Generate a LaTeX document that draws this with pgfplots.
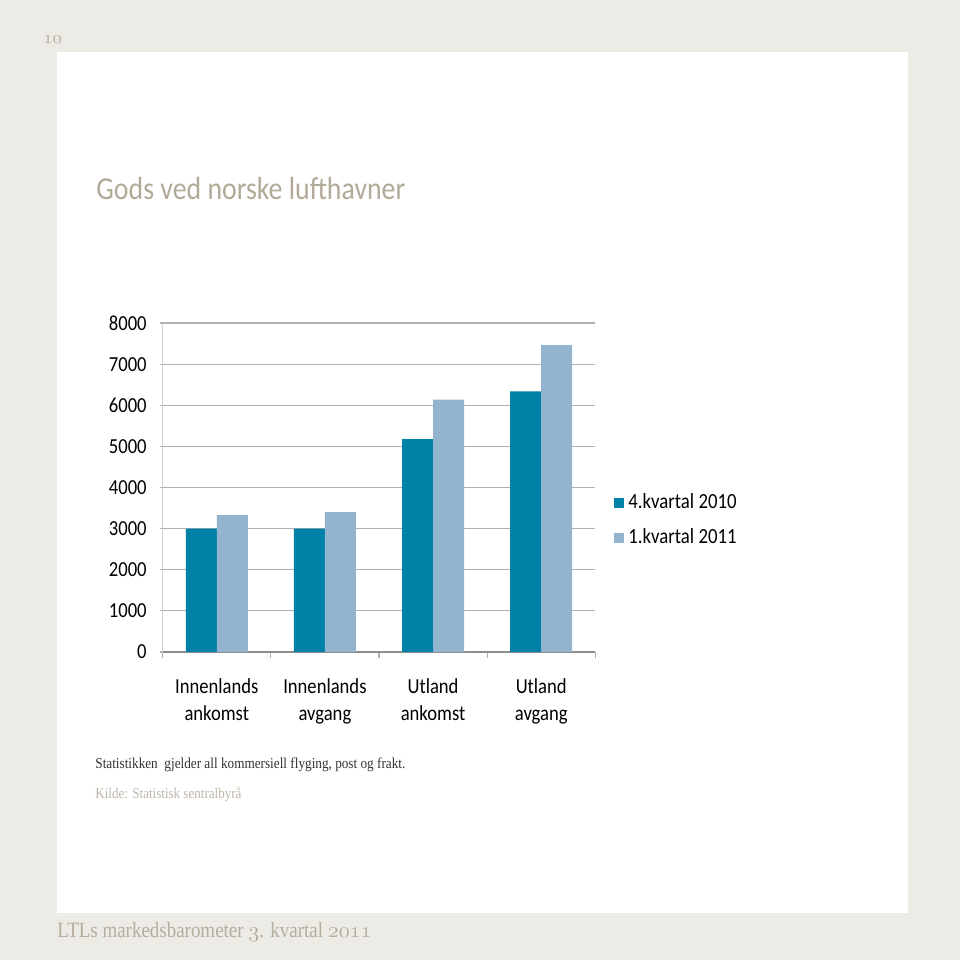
\documentclass[border=0pt]{standalone}
\usepackage{pgfplots}
\pgfplotsset{compat=1.18}
\usepackage{fontspec}
\setmainfont[FakeStretch=0.87]{Carlito}
\newfontfamily\serif[FakeStretch=0.87]{Liberation Serif}
\newcommand{\osf}[1]{{\fontencoding{OML}\fontfamily{cmm}\fontseries{m}\fontshape{it}\selectfont #1}}

\definecolor{pagebg}{HTML}{EDEBE5}
\definecolor{titlecol}{HTML}{B2AA98}
\definecolor{kildecol}{HTML}{BEB7A8}
\definecolor{footcol}{HTML}{B5AD9E}
\definecolor{darkbar}{HTML}{0081A7}
\definecolor{lightbar}{HTML}{92B4CF}
\definecolor{gridcol}{HTML}{B0B0B0}

\begin{document}
\begin{tikzpicture}
% page and white panel (1 px of the reference = 0.5pt)
\fill[pagebg] (0,0) rectangle (480pt,480pt);
\fill[white] (28.5pt,23.5pt) rectangle (454pt,454pt);

\node[anchor=base west, inner sep=0, text=footcol, font=\fontsize{9.5}{11}\selectfont] at (21.5pt,458pt) {\osf{10}};
\node[anchor=base west, inner sep=0, text=titlecol, font=\fontsize{16}{19}\selectfont] at (48pt,380pt) {Gods ved norske lufthavner};

\begin{axis}[
    at={(81.35pt,154pt)}, anchor=south west,
    scale only axis, width=216.3pt, height=164.5pt,
    xmin=-0.5, xmax=3.5, ymin=0, ymax=8000,
    ytick={0,1000,...,8000},
    xtick={0,1,2,3},
    xticklabels={{Innenlands\\ankomst},{Innenlands\\avgang},{Utland\\ankomst},{Utland\\avgang}},
    minor xtick={-0.5,0.5,1.5,2.5,3.5},
    major x tick style={draw=none},
    minor x tick style={draw=gridcol, line width=0.6pt},
    minor tick length=3pt,
    major tick length=1.5pt,
    tick align=outside,
    ymajorgrids,
    grid style={gridcol, line width=0.6pt},
    y tick style={gridcol, line width=0.6pt},
    axis x line*=bottom, axis y line*=left,
    x axis line style={-, draw=gridcol!80!black, line width=0.6pt},
    y axis line style={-, draw=gridcol!60, line width=0.6pt},
    tick label style={font=\fontsize{10.7}{13.4}\selectfont},
    xticklabel style={align=center, yshift=-8.5pt},
    yticklabel style={xshift=-3pt},
    /pgf/number format/assume math mode=true,
    /pgf/number format/1000 sep={},
    legend style={at={(1.043,0.4)}, anchor=west, draw=none, fill=none,
        font=\fontsize{10.8}{13}\selectfont, row sep=4.5pt, inner sep=0pt,
        nodes={inner xsep=2pt}},
    legend cell align=left,
    legend image code/.code={\fill[#1, draw=none] (0pt,-2.5pt) rectangle (5pt,2.5pt);},
]
\addplot[ybar, fill=darkbar, draw=none, bar width=15.5pt, bar shift=-7.75pt]
    coordinates {(0,3000) (1,3000) (2,5175) (3,6335)};
\addlegendentry{4.kvartal 2010}
\addplot[ybar, fill=lightbar, draw=none, bar width=15.5pt, bar shift=7.75pt]
    coordinates {(0,3330) (1,3400) (2,6140) (3,7460)};
\addlegendentry{1.kvartal 2011}
\end{axis}

\node[anchor=base west, inner sep=0, text=black!80, font=\serif\fontsize{7.6}{9}\selectfont] at (47.5pt,95.5pt) {Statistikken\ \ gjelder all kommersiell flyging, post og frakt.};
\node[anchor=base west, inner sep=0, text=kildecol, font=\serif\fontsize{7.5}{9}\selectfont] at (47.5pt,80.5pt) {Kilde: Statistisk sentralbyrå};
\node[anchor=base west, inner sep=0, text=footcol, font=\serif\fontsize{10.9}{13}\selectfont] at (28.5pt,11.5pt) {LTLs markedsbarometer \osf{3}. kvartal \osf{2011}};
\end{tikzpicture}
\end{document}
